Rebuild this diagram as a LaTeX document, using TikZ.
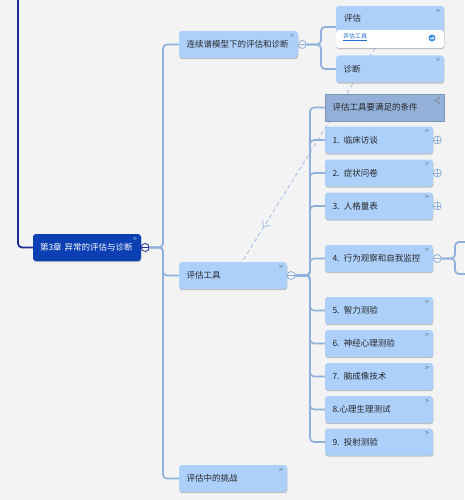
\documentclass[tikz,border=0pt]{standalone}
\usepackage{fontspec}
\setmainfont{Noto Sans CJK SC}
\usetikzlibrary{shadows,arrows.meta,decorations.markings,backgrounds}

\definecolor{bggray}{HTML}{F3F3F3}
\definecolor{topicblue}{HTML}{ADD0FB}
\definecolor{rootblue}{HTML}{0B3FB3}
\definecolor{navyline}{HTML}{1E2E96}
\definecolor{branchblue}{HTML}{8FB1DE}
\definecolor{condblue}{HTML}{93B0D9}
\definecolor{relblue}{HTML}{A8C2E8}
\definecolor{linkblue}{HTML}{1F6FD6}
\definecolor{iconblue}{HTML}{3A8EE6}
\definecolor{topictext}{HTML}{262626}

\tikzset{
  topicfont/.style={font=\fontsize{8.5}{10}\selectfont},
  chevron/.style={anchor=north east, inner sep=0pt, xshift=-4pt, yshift=-3pt,
    font=\fontsize{7}{7}\selectfont, text=black!60},
  softshadow/.style={drop shadow={shadow xshift=0.3pt, shadow yshift=-1.2pt, opacity=0.22, fill=black}},
  topic/.style={rounded corners=3pt, fill=topicblue, text=topictext, minimum height=27pt,
    inner xsep=7.5pt, inner ysep=0pt, text width=#1, align=left, topicfont, softshadow,
    label={[chevron]north east:>}},
  topic/.default=93pt,
  rootbox/.style={rounded corners=3pt, fill=rootblue, text=white, minimum height=27pt,
    inner xsep=7pt, inner ysep=0pt, text width=94pt, align=left, topicfont, softshadow,
    label={[chevron, text=white!75!rootblue]north east:>}},
  condbox/.style={fill=condblue, draw=condblue!85!black, line width=0.4pt, text=topictext,
    minimum height=27pt, inner xsep=7.5pt, inner ysep=0pt, text width=104pt, align=left,
    topicfont, softshadow},
  collapse/.style={circle, draw=#1, fill=bggray, line width=0.8pt, minimum size=8pt, inner sep=0pt,
    path picture={\draw[#1, line width=0.8pt] (path picture bounding box.west) -- (path picture bounding box.east);}},
  collapse/.default=branchblue,
  expand/.style={circle, draw=branchblue, fill=bggray, line width=0.7pt, minimum size=8pt, inner sep=0pt,
    path picture={\draw[branchblue, line width=0.7pt] (path picture bounding box.west) -- (path picture bounding box.east)
      (path picture bounding box.north) -- (path picture bounding box.south);}},
  branch/.style={draw=branchblue, line width=1.7pt, rounded corners=4pt},
  relation/.style={draw=relblue, line width=0.9pt, dash pattern=on 4pt off 3pt, postaction={decorate},
    decoration={markings, mark=at position 0.84 with {\arrow{Straight Barb[length=5pt,width=9pt,line width=0.9pt]}}}}
}

\begin{document}
\begin{tikzpicture}[x=1pt,y=-1pt]
\useasboundingbox (0,0) rectangle (464,500);

% root
\node[rootbox] (root) at (87,247.5) {第3章 异常的评估与诊断};
\node[collapse=navyline] (c0) at ([xshift=4pt]root.east) {};
\coordinate (top) at (18,-5);
\draw[navyline, line width=1.8pt, rounded corners=4pt] (top) |- (root.west);

% first level
\node[topic=104pt] (cont) at (238.5,44.5) {连续谱模型下的评估和诊断};
\node[topic] (tools) at (233,275.5) {评估工具};
\node[topic] (chall) at (233,478.5) {评估中的挑战};
\coordinate (j0) at (163,247.5);
\foreach \n in {cont,tools,chall} {\draw[branch] (c0.east) -- (j0) |- (\n.west);}

% continuum model
\node[collapse] (c1) at ([xshift=4pt]cont.east) {};
\node[topic, minimum height=42pt,
  path picture={\fill[white] ([yshift=18pt]path picture bounding box.south east) rectangle (path picture bounding box.south west);}]
  (eval) at (390,27) {};
\node[anchor=west, inner sep=0pt, text=topictext, topicfont] (evaltitle) at (344,18) {评估};
\node[anchor=west, inner sep=0pt, text=linkblue, font=\fontsize{6}{7}\selectfont] (evallink) at (343,37) {\underline{评估工具}};
\node[circle, fill=iconblue, minimum size=7pt, inner sep=0pt] (evalicon) at (432,38) {};
\draw[white, line width=0.8pt, -{Stealth[length=2pt,width=3pt]}] ([xshift=-2.2pt]evalicon.center) -- ([xshift=2.4pt]evalicon.center);
\node[topic] (diag) at (390,69) {诊断};
\coordinate (j1) at (321,44.5);
\foreach \n in {eval,diag} {\draw[branch] (c1.east) -- (j1) |- (\n.west);}

% assessment tools
\node[collapse] (c2) at ([xshift=4pt]tools.east) {};
\node[condbox] (cond) at (384.5,107.5) {评估工具要满足的条件};
\fill[black!50] (439,98) circle (0.8) (435,100.5) circle (0.8) (439,103) circle (0.8);
\draw[black!50, line width=0.4pt] (439,98) -- (435,100.5) -- (439,103);
\foreach \n/\y/\t in {1/140/1. 临床访谈, 2/173/2. 症状问卷, 3/206/3. 人格量表,
    4/258.5/4. 行为观察和自我监控, 5/310.5/5. 智力测验, 6/343.5/6. 神经心理测验,
    7/376.5/7. 脑成像技术, 8/409.5/8.心理生理测试, 9/442/9. 投射测验}
  {\node[topic] (i\n) at (379,\y) {\t};}
\coordinate (j2) at (310,275.5);
\draw[branch] (c2.east) -- (j2) |- (cond.west);
\foreach \n in {1,...,9} {\draw[branch] (c2.east) -- (j2) |- (i\n.west);}
\foreach \n in {1,2,3} {\node[expand] (e\n) at ([xshift=4pt]i\n.east) {};}

% behaviour observation
\node[collapse] (c4) at ([xshift=4pt]i4.east) {};
\coordinate (j4) at (455,258.5);
\coordinate (k1) at (468,242);
\coordinate (k2) at (468,274);
\foreach \n in {k1,k2} {\draw[branch] (c4.east) -- (j4) |- (\n);}

\begin{scope}[on background layer]
\fill[bggray] (0,0) rectangle (464,500);
\draw[relation] ([xshift=-15pt]eval.south) -- ([xshift=9pt]tools.north);
\end{scope}
\end{tikzpicture}
\end{document}
